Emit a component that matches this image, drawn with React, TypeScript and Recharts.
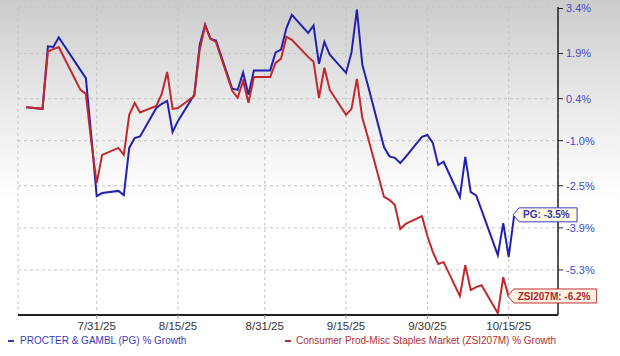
import React from 'react';
import { LineChart, Line, XAxis, YAxis, CartesianGrid } from 'recharts';

const dates = [
  '2025-07-18', '2025-07-21', '2025-07-22', '2025-07-23', '2025-07-24', '2025-07-25',
  '2025-07-28', '2025-07-29', '2025-07-30', '2025-07-31', '2025-08-01',
  '2025-08-04', '2025-08-05', '2025-08-06', '2025-08-07', '2025-08-08',
  '2025-08-11', '2025-08-12', '2025-08-13', '2025-08-14', '2025-08-15',
  '2025-08-18', '2025-08-19', '2025-08-20', '2025-08-21', '2025-08-22',
  '2025-08-25', '2025-08-26', '2025-08-27', '2025-08-28', '2025-08-29',
  '2025-09-01', '2025-09-02', '2025-09-03', '2025-09-04', '2025-09-05',
  '2025-09-08', '2025-09-09', '2025-09-10', '2025-09-11', '2025-09-12',
  '2025-09-15', '2025-09-16', '2025-09-17', '2025-09-18', '2025-09-19',
  '2025-09-22', '2025-09-23', '2025-09-24', '2025-09-25', '2025-09-26',
  '2025-09-29', '2025-09-30', '2025-10-01', '2025-10-02', '2025-10-03',
  '2025-10-06', '2025-10-07', '2025-10-08', '2025-10-09', '2025-10-10',
  '2025-10-13', '2025-10-14', '2025-10-15', '2025-10-16',
];

const pgGrowth = [
  0.11, 0.06, 2.14, 2.12, 2.44, 2.17,
  1.35, 1.08, -0.84, -2.84, -2.74,
  -2.67, -2.81, -1.24, -0.91, -0.86,
  0.09, 0.23, 0.33, -0.71, -0.34,
  0.53, 2.19, 2.86, 2.39, 2.33,
  0.73, 0.69, 1.27, 0.53, 1.34,
  1.34, 1.94, 2.03, 2.75, 3.19,
  2.59, 2.83, 1.56, 2.29, 1.86,
  1.26, 1.93, 3.36, 1.53, 0.86,
  -1.21, -1.52, -1.57, -1.74, -1.54,
  -0.87, -0.81, -1.07, -1.81, -1.70,
  -2.87, -1.54, -2.71, -2.82, -3.31,
  -4.81, -3.74, -4.87, -3.5,
];

const zsiGrowth = [
  0.11, 0.06, 1.97, 2.05, 2.12, 1.76,
  0.69, 0.56, -1.04, -2.41, -1.47,
  -1.24, -1.47, -0.14, 0.26, -0.06,
  0.16, 0.56, 1.29, 0.06, 0.09,
  0.49, 2.03, 2.83, 2.39, 2.29,
  0.66, 0.43, 0.99, 0.26, 1.12,
  1.12, 1.59, 1.73, 2.46, 2.36,
  1.79, 1.63, 0.43, 1.43, 0.69,
  -0.14, 0.06, 1.06, -0.24, -0.87,
  -2.87, -2.97, -3.14, -3.94, -3.77,
  -3.51, -4.17, -4.7, -5.1, -5.04,
  -6.17, -5.14, -5.97, -5.87, -5.81,
  -6.74, -5.54, -6.2,
];

const xTickDates = ['2025-07-31', '2025-08-15', '2025-08-31', '2025-09-15', '2025-09-30', '2025-10-15'];
const xTickLabels = ['7/31/25', '8/15/25', '8/31/25', '9/15/25', '9/30/25', '10/15/25'];
const yTicks = [3.4, 1.9, 0.4, -1.0, -2.5, -3.9, -5.3];
const yTickLabels = ['3.4%', '1.9%', '0.4%', '-1.0%', '-2.5%', '-3.9%', '-5.3%'];

const seriesNames = ['PROCTER & GAMBL (PG) % Growth', 'Consumer Prod-Misc Staples Market (ZSI207M) % Growth'];
const endLabelPrefixes = ['PG', 'ZSI207M'];

const BLUE = '#2121ae';
const RED = '#c0282d';
const FONT = "'Liberation Sans', Arial, sans-serif";

const dayNum = (s: string) => Date.UTC(+s.slice(0, 4), +s.slice(5, 7) - 1, +s.slice(8, 10)) / 86400000;

const data = dates.map((d, i) => ({
  t: dayNum(d),
  pg: pgGrowth[i],
  zsi: i < zsiGrowth.length ? zsiGrowth[i] : null,
}));

const xTicks = xTickDates.map(dayNum);
const xDomain = [dayNum('2025-07-16') + 0.48, dayNum('2025-10-24') + 0.1];

const fmtPct = (v: number) => `${v.toFixed(1)}%`;

const makeEndLabel = (lastIndex: number, prefix: string, stroke: string, fill: string, textColor: string, boxW: number) =>
  (props: any) => {
    const { x, y, index, value } = props;
    if (index !== lastIndex || x == null || y == null) return null;
    const h = 7;
    const tipX = x - 1;
    const cy = y - 1;
    const pts = [
      [tipX, cy],
      [tipX + 6, cy - h],
      [tipX + boxW, cy - h],
      [tipX + boxW, cy + h],
      [tipX + 6, cy + h],
    ]
      .map((p) => p.join(','))
      .join(' ');
    return (
      <g>
        <polygon points={pts} fill={fill} stroke={stroke} strokeWidth={1} />
        <text
          x={tipX + 10}
          y={cy + 3.6}
          fontSize={10}
          fontFamily={FONT}
          fontWeight={600}
          fill={textColor}
        >
          {`${prefix}: ${fmtPct(value)}`}
        </text>
      </g>
    );
  };

export default function App() {
  return (
    <div
      style={{
        position: 'absolute',
        left: 0,
        top: 0,
        width: 620,
        height: 356,
        background: 'linear-gradient(to bottom, #cbcbcb 0px, #e6e6e6 90px, #ffffff 200px, #ffffff 356px)',
        fontFamily: FONT,
      }}
    >
      <LineChart
        width={620}
        height={356}
        data={data}
        margin={{ top: 7, right: 8, left: 18, bottom: 15 }}
      >
        <CartesianGrid stroke="#c4c4c4" strokeDasharray="3 3" />
        <XAxis
          dataKey="t"
          type="number"
          domain={xDomain}
          ticks={xTicks}
          allowDataOverflow
          tickFormatter={(v: number) => xTickLabels[xTicks.indexOf(v)] ?? ''}
          height={26}
          axisLine={{ stroke: '#222', strokeWidth: 2 }}
          tickLine={{ stroke: '#999' }}
          tickSize={4}
          tickMargin={3}
          tick={{ fill: '#333', fontSize: 11.5, fontFamily: FONT }}
        />
        <YAxis
          orientation="right"
          type="number"
          domain={[-6.8, 3.45]}
          ticks={yTicks}
          allowDataOverflow
          width={54}
          tickFormatter={(v: number) => yTickLabels[yTicks.indexOf(v)] ?? ''}
          axisLine={{ stroke: '#222', strokeWidth: 1.5 }}
          tickLine={{ stroke: '#222' }}
          tickSize={5}
          tickMargin={3}
          tick={{ fill: '#4848c4', fontSize: 11, fontFamily: FONT, textAnchor: 'start' }}
        />
        <Line
          type="linear"
          dataKey="pg"
          stroke={BLUE}
          strokeWidth={2}
          dot={false}
          isAnimationActive={false}
          label={makeEndLabel(pgGrowth.length - 1, endLabelPrefixes[0], '#3c3cc0', '#fdfbe4', '#3535b0', 64)}
        />
        <Line
          type="linear"
          dataKey="zsi"
          stroke={RED}
          strokeWidth={2}
          dot={false}
          isAnimationActive={false}
          label={makeEndLabel(zsiGrowth.length - 1, endLabelPrefixes[1], '#c03030', '#fdf2e2', '#b02828', 89)}
        />
      </LineChart>
      <div
        style={{
          position: 'absolute',
          left: 8,
          top: 334,
          fontSize: 10,
          color: '#3a3ab8',
          whiteSpace: 'nowrap',
          lineHeight: '14px',
        }}
      >
        <span style={{ display: 'inline-block', width: 6, height: 2, background: '#3a3ab8', verticalAlign: 'middle', marginRight: 6 }} />
        {seriesNames[0]}
      </div>
      <div
        style={{
          position: 'absolute',
          left: 285,
          top: 334,
          fontSize: 10,
          color: '#b03030',
          whiteSpace: 'nowrap',
          lineHeight: '14px',
        }}
      >
        <span style={{ display: 'inline-block', width: 6, height: 2, background: '#b03030', verticalAlign: 'middle', marginRight: 5 }} />
        {seriesNames[1]}
      </div>
    </div>
  );
}
